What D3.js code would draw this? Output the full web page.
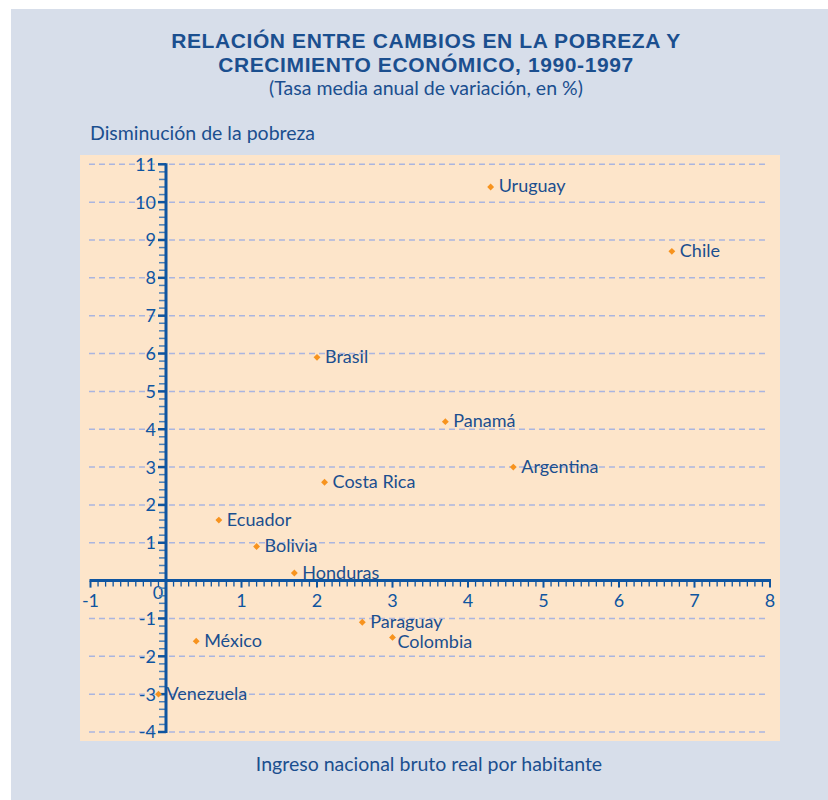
<!DOCTYPE html>
<html lang="es">
<head>
  <meta charset="UTF-8">
  <title>Pobreza y crecimiento</title>
  <script src="https://d3js.org/d3.v7.min.js"></script>
  <style>
    body { margin: 0; background: #ffffff; }
    svg { display: block; font-family: Lato, "Open Sans", sans-serif; }
    .title { font-family: "Liberation Sans", Arial, sans-serif; font-weight: bold;
             font-size: 21px; letter-spacing: 0.6px; }
  </style>
</head>
<body>
<svg id="chart"></svg>
<script>
  // Data
  const countries = ["Uruguay", "Chile", "Brasil", "Panamá", "Argentina", "Costa Rica",
    "Ecuador", "Bolivia", "Honduras", "Paraguay", "Colombia", "México", "Venezuela"];
  const ingreso = [4.3, 6.7, 2.0, 3.7, 4.6, 2.1, 0.7, 1.2, 1.7, 2.6, 3.0, 0.4, -0.1];
  const pobreza = [10.4, 8.7, 5.9, 4.2, 3.0, 2.6, 1.6, 0.9, 0.2, -1.1, -1.5, -1.6, -3.0];
  const xTicks = [-1, 1, 2, 3, 4, 5, 6, 7, 8];
  const yTicks = [-4, -3, -2, -1, 1, 2, 3, 4, 5, 6, 7, 8, 9, 10, 11];

  const W = 828, H = 800;
  const textColor = "#1b4f8f";
  const axisColor = "#0f55a0";

  const svg = d3.select("#chart").attr("width", W).attr("height", H);

  // backgrounds
  svg.append("rect").attr("x", 11).attr("y", 9).attr("width", W - 11).attr("height", H - 9)
    .attr("fill", "#d7deea");
  svg.append("rect").attr("x", 80).attr("y", 155).attr("width", 700).attr("height", 586)
    .attr("fill", "#fde5ca");

  // scales
  const x = d3.scaleLinear().domain([-1, 8]).range([90.5, 770]);
  const y = d3.scaleLinear().domain([-4, 11]).range([732, 164.3]);

  // titles
  svg.append("text").attr("class", "title").attr("x", 426).attr("y", 48)
    .attr("text-anchor", "middle").attr("fill", textColor)
    .text("RELACIÓN ENTRE CAMBIOS EN LA POBREZA Y");
  svg.append("text").attr("class", "title").attr("x", 426).attr("y", 72)
    .attr("text-anchor", "middle").attr("fill", textColor)
    .text("CRECIMIENTO ECONÓMICO, 1990-1997");
  svg.append("text").attr("x", 426).attr("y", 95).attr("text-anchor", "middle")
    .attr("fill", textColor).style("font-size", "19.5px")
    .text("(Tasa media anual de variación, en %)");
  svg.append("text").attr("x", 90).attr("y", 140)
    .attr("fill", textColor).style("font-size", "19.5px")
    .text("Disminución de la pobreza");
  svg.append("text").attr("x", 429).attr("y", 771).attr("text-anchor", "middle")
    .attr("fill", textColor).style("font-size", "19.5px")
    .text("Ingreso nacional bruto real por habitante");

  // dashed gridlines
  svg.append("g").selectAll("line").data(yTicks).join("line")
    .attr("x1", 89).attr("x2", 768)
    .attr("y1", d => y(d)).attr("y2", d => y(d))
    .attr("stroke", "#aab5df").attr("stroke-width", 1.5)
    .attr("stroke-dasharray", "6,4");

  // x axis
  const x0 = y(0);
  const xMinor = d3.range(-10, 81).map(d => d / 10);
  svg.append("g").selectAll("line").data(xMinor).join("line")
    .attr("x1", d => x(d)).attr("x2", d => x(d))
    .attr("y1", x0).attr("y2", d => Number.isInteger(d) ? x0 + 7 : x0 + 6)
    .attr("stroke", axisColor)
    .attr("stroke-width", d => Number.isInteger(d) ? 2 : 1.3);
  svg.append("line").attr("x1", x(-1) - 1).attr("x2", x(8) + 1)
    .attr("y1", x0).attr("y2", x0)
    .attr("stroke", axisColor).attr("stroke-width", 3);
  svg.append("g").selectAll("text").data(xTicks).join("text")
    .attr("x", d => x(d)).attr("y", x0 + 26)
    .attr("text-anchor", "middle").attr("fill", axisColor)
    .style("font-size", "18px")
    .text(d => d < 0 ? "-" + Math.abs(d) : d);
  svg.append("text").attr("x", x(0) - 8).attr("y", x0 + 18)
    .attr("text-anchor", "middle").attr("fill", axisColor)
    .style("font-size", "18px").text("0");

  // y axis
  const y0 = x(0);
  const yMinor = d3.range(-20, 56).map(d => d / 5);
  svg.append("g").selectAll("line").data(yMinor).join("line")
    .attr("x1", d => Number.isInteger(d) ? y0 - 8 : y0 - 7).attr("x2", y0)
    .attr("y1", d => y(d)).attr("y2", d => y(d))
    .attr("stroke", d => Number.isInteger(d) ? axisColor : "#4a7fb6")
    .attr("stroke-width", d => Number.isInteger(d) ? 2.5 : 1.5);
  svg.append("line").attr("x1", y0).attr("x2", y0)
    .attr("y1", y(11) - 1).attr("y2", y(-4) + 1)
    .attr("stroke", axisColor).attr("stroke-width", 3);
  svg.append("g").selectAll("text").data(yTicks).join("text")
    .attr("x", y0 - 10).attr("y", d => y(d))
    .attr("dy", "0.36em").attr("text-anchor", "end").attr("fill", axisColor)
    .style("font-size", "18px")
    .text(d => d < 0 ? "-" + Math.abs(d) : d);

  // points and labels
  const idx = d3.range(countries.length);
  svg.append("g").selectAll("path").data(idx).join("path")
    .attr("d", d3.symbol().type(d3.symbolDiamond2).size(30))
    .attr("transform", i => `translate(${x(ingreso[i])},${y(pobreza[i])})`)
    .attr("fill", "#f7931e");
  // Colombia's label sits a little lower and closer to its point
  const nudge = name => name === "Colombia" ? [5, 4] : [8, -1];
  svg.append("g").selectAll("text").data(idx).join("text")
    .attr("x", i => x(ingreso[i]) + nudge(countries[i])[0])
    .attr("y", i => y(pobreza[i]) + nudge(countries[i])[1])
    .attr("dy", "0.36em").attr("fill", textColor)
    .style("font-size", "18px")
    .text(i => countries[i]);
</script>
</body>
</html>
